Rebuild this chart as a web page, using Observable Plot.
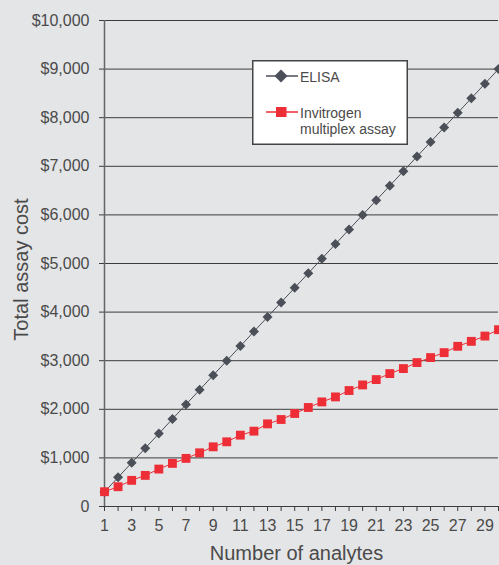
<!DOCTYPE html>
<html>
<head>
<meta charset="utf-8">
<script src="https://cdn.jsdelivr.net/npm/d3@7"></script>
<script src="https://cdn.jsdelivr.net/npm/@observablehq/plot@0.6"></script>
<style>
  html, body { margin: 0; padding: 0; background: #e4e5e7; }
  #wrap { position: relative; width: 499px; height: 565px; overflow: hidden; }
  #legend { position: absolute; left: 252px; top: 60px; }
</style>
</head>
<body>
<div id="wrap"></div>
<script>
// ---- data ----
const analytes = [1,2,3,4,5,6,7,8,9,10,11,12,13,14,15,16,17,18,19,20,21,22,23,24,25,26,27,28,29,30];
const elisaCost = [300,600,900,1200,1500,1800,2100,2400,2700,3000,3300,3600,3900,4200,4500,4800,5100,5400,5700,6000,6300,6600,6900,7200,7500,7800,8100,8400,8700,9000];
const invitrogenCost = [304,407,538,640,770,887,990,1105,1228,1331,1468,1550,1700,1790,1914,2037,2152,2255,2386,2501,2612,2735,2838,2961,3064,3166,3296,3398,3507,3638];
const seriesNames = ["ELISA", "Invitrogen multiplex assay"];
const yTicks = [0,1000,2000,3000,4000,5000,6000,7000,8000,9000,10000];
const yTickLabels = ["0","$1,000","$2,000","$3,000","$4,000","$5,000","$6,000","$7,000","$8,000","$9,000","$10,000"];
const xTicks = analytes;
const xTickLabels = ["1","","3","","5","","7","","9","","11","","13","","15","","17","","19","","21","","23","","25","","27","","29",""];
const xTitle = "Number of analytes";
const yTitle = "Total assay cost";

// ---- tables ----
const elisa = analytes.map((n, i) => ({n, cost: elisaCost[i]}));
const invit = analytes.map((n, i) => ({n, cost: invitrogenCost[i]}));
const yLab = new Map(yTicks.map((t, i) => [t, yTickLabels[i]]));
const xLab = new Map(xTicks.map((t, i) => [t, xTickLabels[i]]));

const grey = "#4b4f58";
const red = "#ee2e36";
const textColor = "#4a4a4a";
const font = "'Liberation Sans', Arial, sans-serif";

const chart = Plot.plot({
  width: 499,
  height: 565,
  marginLeft: 104,
  marginRight: 1,
  marginTop: 20,
  marginBottom: 59,
  style: {background: "transparent", fontFamily: font, color: textColor, overflow: "visible"},
  x: {domain: [1, 30]},
  y: {domain: [0, 10000]},
  marks: [
    Plot.ruleY(yTicks, {stroke: "#3c3c3c", strokeWidth: 1}),
    Plot.axisY({ticks: yTicks, tickFormat: d => yLab.get(d), tickSize: 5, tickPadding: 10, fontSize: 16, label: null, stroke: "#3c3c3c", fill: textColor}),
    Plot.axisX({ticks: xTicks, tickFormat: d => xLab.get(d), tickSize: 5, tickPadding: 8, fontSize: 16, label: null, stroke: "#3c3c3c", fill: textColor}),
    Plot.ruleX([1], {stroke: "#666", strokeWidth: 1.5}),
    Plot.line(elisa, {x: "n", y: "cost", stroke: grey, strokeWidth: 1}),
    Plot.dot(elisa, {x: "n", y: "cost", symbol: "diamond2", r: 4.5, fill: grey, stroke: "none"}),
    Plot.line(invit, {x: "n", y: "cost", stroke: red, strokeWidth: 1}),
    Plot.dot(invit, {x: "n", y: "cost", symbol: "square", r: 5, fill: red, stroke: "none"}),
    Plot.text([yTitle], {frameAnchor: "left", rotate: -90, textAnchor: "middle", lineAnchor: "middle", dx: -83, dy: 6, fontSize: 20, fill: textColor}),
    Plot.text([xTitle], {frameAnchor: "bottom", textAnchor: "middle", lineAnchor: "middle", dx: -5, dy: 47, fontSize: 20, fill: textColor})
  ]
});

const wrap = document.getElementById("wrap");
wrap.appendChild(chart);

// ---- legend ----
const ns = "http://www.w3.org/2000/svg";
const lg = document.createElementNS(ns, "svg");
lg.setAttribute("id", "legend");
lg.setAttribute("width", 157);
lg.setAttribute("height", 86);
lg.innerHTML = `
  <rect x="0.75" y="0.75" width="154.5" height="83.5" fill="#fff" stroke="#444" stroke-width="1.5"/>
  <line x1="14" x2="46" y1="16" y2="16" stroke="${grey}" stroke-width="1.5"/>
  <path d="M29,9.5 L35.5,16 L29,22.5 L22.5,16 Z" fill="${grey}"/>
  <text x="48" y="22" font-family="${font}" font-size="14" fill="${textColor}">${seriesNames[0]}</text>
  <line x1="14" x2="46" y1="52" y2="52" stroke="${red}" stroke-width="1.5"/>
  <rect x="24" y="47" width="10.5" height="10" fill="${red}"/>
  <text font-family="${font}" font-size="14" fill="${textColor}">
    <tspan x="48" y="58">Invitrogen</tspan>
    <tspan x="48" y="74">multiplex assay</tspan>
  </text>`;
wrap.appendChild(lg);
</script>
</body>
</html>
